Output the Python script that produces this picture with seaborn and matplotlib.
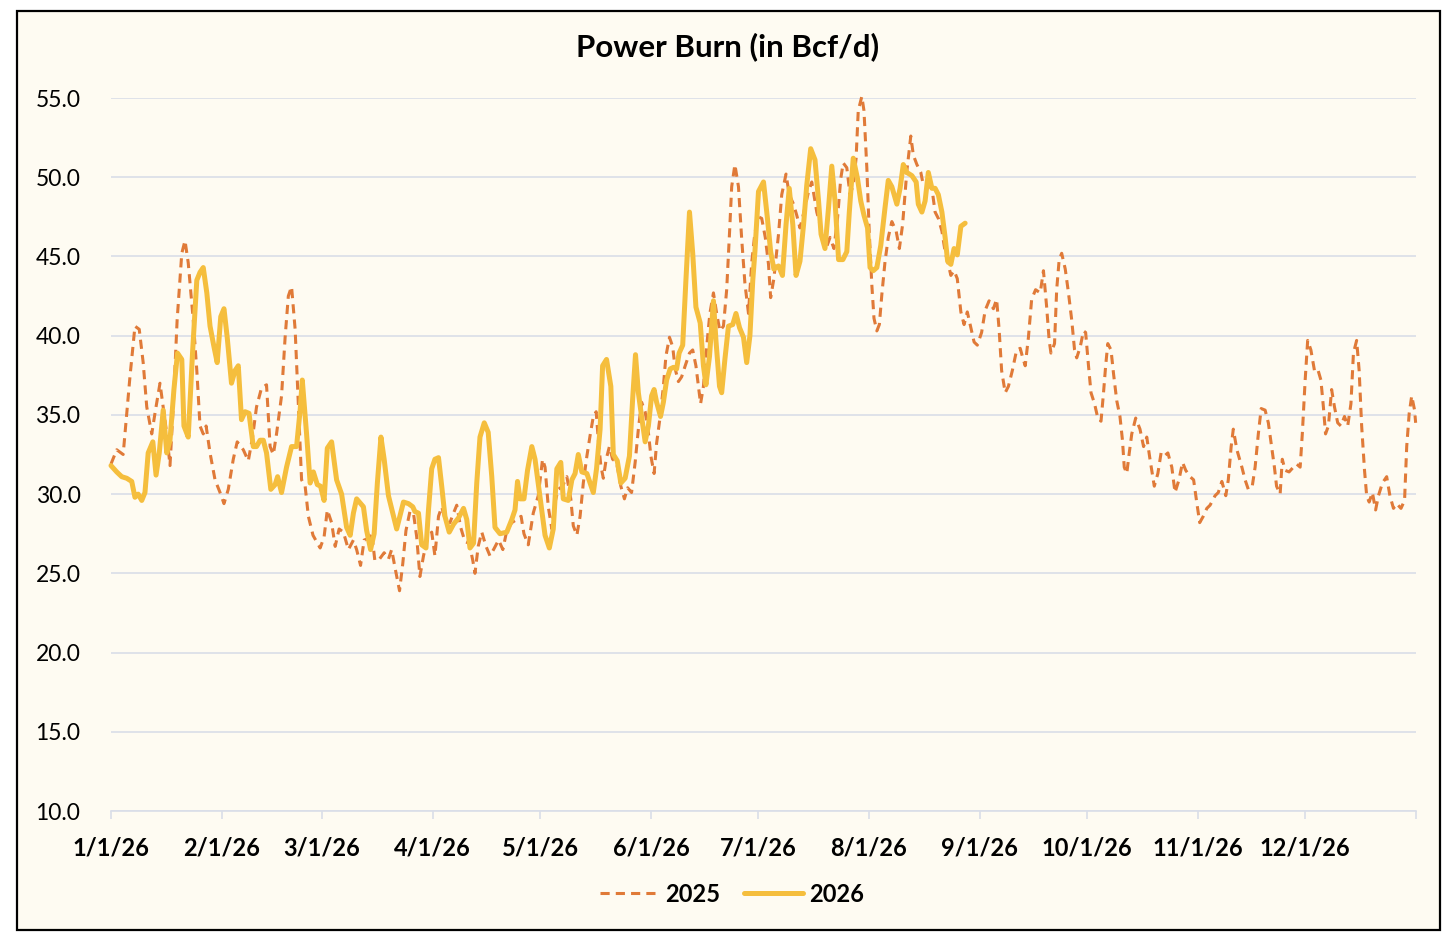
import numpy as np
import pandas as pd
import matplotlib.pyplot as plt
from matplotlib.patches import Rectangle
import seaborn as sns

# day of year (0 = 1/1) and power burn in Bcf/d
days_2025 = [0.0, 1.6, 3.4, 5.3, 6.7, 7.9, 9.0, 10.0, 11.4, 12.3, 13.7, 14.6, 15.6, 16.5, 17.4, 18.5, 19.8, 20.7,
             21.6, 23.0, 24.0, 24.9, 25.8, 26.6, 27.7, 29.1, 30.5, 31.6, 32.8, 34.2, 35.3, 37.0, 38.4, 39.6, 40.7,
             42.1, 43.5, 44.5, 45.4, 46.3, 47.7, 48.7, 49.6, 50.5, 51.5, 52.4, 53.3, 54.3, 55.2, 56.5, 57.5, 58.5,
             59.6, 60.5, 61.7, 62.7, 63.8, 65.0, 66.4, 67.8, 68.7, 69.8, 70.8, 72.0, 72.9, 73.8, 75.1, 76.4, 77.6,
             78.5, 79.4, 80.7, 81.6, 82.5, 83.6, 84.6, 85.5, 86.4, 87.4, 88.5, 89.7, 90.6, 91.6, 92.5, 93.7, 94.8,
             95.8, 96.7, 97.8, 99.0, 100.2, 101.2, 101.8, 102.7, 103.7, 104.9, 106.0, 107.0, 108.4, 109.6, 110.7,
             112.1, 113.5, 114.7, 115.5, 116.7, 118.1, 119.5, 120.7, 121.4, 122.3, 123.3, 124.2, 125.1, 126.3,
             127.5, 128.6, 129.3, 130.3, 131.2, 132.1, 133.1, 134.0, 134.9, 135.7, 136.3, 137.0, 137.7, 138.5,
             139.4, 140.3, 141.4, 142.6, 143.6, 144.5, 145.6, 146.6, 147.5, 148.4, 149.4, 150.3, 151.0, 151.9,
             152.6, 153.6, 154.5, 155.2, 156.2, 157.1, 157.8, 158.7, 159.6, 160.6, 161.8, 162.7, 163.6, 164.3,
             164.9, 165.7, 166.6, 167.5, 168.5, 169.4, 170.3, 171.3, 172.2, 173.0, 173.6, 174.5, 175.5, 176.4,
             177.3, 178.3, 179.2, 180.1, 181.1, 182.0, 183.0, 183.9, 184.5, 185.4, 186.7, 187.6, 188.8, 189.7,
             190.9, 191.8, 192.7, 193.8, 195.1, 196.0, 197.4, 198.8, 200.0, 201.1, 202.2, 203.2, 204.1, 204.8,
             205.8, 206.7, 207.6, 208.4, 209.0, 210.0, 210.6, 211.4, 212.1, 212.8, 213.4, 214.2, 214.9, 215.6,
             216.5, 217.4, 218.4, 219.6, 220.5, 221.4, 222.6, 223.7, 224.4, 225.4, 226.5, 227.2, 228.3, 229.6,
             230.5, 231.4, 232.4, 233.3, 234.2, 234.9, 235.8, 236.7, 237.7, 238.6, 239.5, 240.5, 241.4, 242.3,
             243.5, 244.5, 245.6, 246.8, 247.7, 248.4, 249.1, 250.1, 251.0, 252.1, 253.3, 254.3, 254.9, 255.7,
             256.6, 257.5, 258.6, 259.9, 260.8, 261.7, 262.4, 262.9, 263.9, 264.5, 265.2, 265.9, 266.9, 267.8,
             268.7, 269.5, 270.1, 271.1, 272.0, 272.6, 273.4, 274.1, 275.1, 276.0, 276.9, 277.6, 278.2, 278.8,
             279.7, 280.4, 281.3, 282.2, 282.9, 283.4, 284.1, 284.8, 285.5, 286.6, 287.8, 288.8, 289.7, 290.6,
             291.8, 292.8, 293.7, 294.6, 295.6, 296.7, 297.6, 298.7, 299.7, 300.6, 301.8, 302.8, 303.6, 304.5,
             305.5, 306.5, 307.4, 308.8, 309.7, 310.7, 311.8, 312.5, 313.3, 313.9, 314.9, 316.3, 317.2, 318.1,
             319.2, 320.0, 320.9, 321.7, 322.8, 323.7, 324.6, 325.4, 326.0, 327.0, 327.6, 328.4, 329.5, 330.7,
             331.6, 332.6, 333.2, 334.0, 334.7, 335.6, 336.6, 337.5, 338.4, 339.1, 339.7, 340.5, 341.4, 342.2,
             343.1, 344.0, 345.0, 345.9, 346.8, 347.5, 348.4, 349.1, 349.8, 350.6, 351.2, 351.9, 352.8, 353.7,
             354.5, 355.6, 356.8, 357.7, 358.7, 359.6, 360.8, 361.8, 362.4, 363.1, 363.8, 364.6, 364.9]
burn_2025 = [31.9, 32.8, 32.5, 37.4, 40.6, 40.4, 38.3, 35.5, 33.8, 35.1, 37.0, 35.5, 33.8, 31.8, 35.5, 41.0, 45.2, 46.0,
             44.6, 41.0, 37.8, 34.3, 33.8, 34.3, 32.6, 30.9, 30.1, 29.4, 30.3, 32.2, 33.3, 32.8, 32.1, 33.6, 35.5,
             36.7, 36.9, 33.0, 32.5, 33.8, 36.2, 39.9, 42.5, 43.1, 40.4, 35.7, 30.9, 30.5, 28.6, 27.4, 27.0, 26.6,
             27.3, 29.0, 28.2, 26.7, 27.8, 27.6, 26.5, 27.1, 26.5, 25.5, 27.1, 27.2, 27.6, 25.8, 25.9, 26.3, 25.9,
             26.5, 25.4, 23.9, 25.6, 27.7, 28.9, 28.8, 27.3, 24.8, 26.1, 27.2, 27.6, 26.1, 28.6, 29.2, 28.2, 28.2,
             28.8, 29.3, 27.9, 27.0, 26.9, 25.8, 25.0, 26.7, 27.6, 26.7, 26.1, 26.5, 27.1, 26.5, 27.7,
             28.2, 28.4, 28.6, 27.5, 26.8, 28.8, 29.9, 32.2, 31.7, 29.2, 27.8, 29.5, 30.3, 30.5,
             31.1, 29.7, 28.0, 27.4, 28.6, 30.7, 32.4, 33.7, 34.9, 35.2, 33.4, 31.8, 31.0, 32.2,
             33.0, 32.2, 32.0, 30.5, 29.7, 30.4, 30.1, 32.0, 34.1, 35.8, 35.2, 33.9, 32.4, 31.3,
             33.2, 34.9, 36.8, 38.7, 39.9, 39.3, 37.9, 37.1, 37.4, 38.1, 38.9, 39.1, 38.1, 36.8,
             35.7, 36.8, 39.3, 41.4, 42.7, 41.4, 40.3, 40.6, 42.9, 46.5, 49.4, 50.8, 49.4, 46.1,
             43.3, 41.4, 44.6, 46.5, 47.5, 47.4, 46.2, 44.5, 42.4, 43.6, 46.4, 48.9, 50.2, 48.9,
             48.3, 47.6, 46.8, 47.8, 49.1, 49.7, 47.8, 46.6, 45.5, 46.2, 45.5, 47.4, 49.9, 50.9,
             50.6, 48.9, 49.5, 51.2, 54.2, 55.1, 54.2, 50.6, 46.4, 43.2, 41.1, 40.3, 40.7, 42.6,
             44.7, 46.2, 47.2, 46.6, 45.5, 47.0, 50.4, 52.6, 51.4, 50.8, 50.3, 49.5, 49.5, 49.3,
             47.8, 47.4, 46.6, 45.3, 44.5, 43.8, 44.1, 43.6, 41.5, 40.7, 41.5, 40.5, 39.6, 39.4,
             40.2, 41.6, 42.2, 41.7, 42.3, 40.4, 37.8, 36.4, 36.8, 37.8, 39.1, 39.2, 38.7, 38.1,
             39.9, 42.3, 42.9, 42.7, 44.1, 41.8, 39.7, 38.9, 39.5, 42.9, 44.8, 45.2, 44.2, 42.7,
             41.0, 39.1, 38.6, 39.3, 40.3, 40.2, 38.1, 36.4, 35.7, 34.8, 34.6, 36.4, 38.1, 39.5,
             39.1, 37.6, 35.9, 34.9, 33.4, 31.7, 31.3, 32.6, 33.8, 34.8, 34.1, 33.0, 33.6, 32.2,
             30.5, 31.3, 32.6, 32.4, 32.6, 31.7, 30.1, 30.9, 32.0, 31.5, 31.1, 30.9, 29.6, 28.2,
             28.6, 29.1, 29.3, 29.9, 30.1, 30.8, 29.9, 30.9, 33.0, 34.1, 32.8, 31.7, 30.9, 30.3,
             30.5, 31.7, 33.8, 35.4, 35.3, 34.5, 33.0, 31.7, 30.5, 30.0, 32.2, 31.5, 31.4, 31.7,
             31.9, 31.7, 33.8, 37.2, 39.7, 39.1, 37.8, 37.9, 37.2, 35.5, 33.8, 34.3, 36.6, 35.5,
             34.5, 34.3, 34.9, 34.3, 35.7, 38.9, 39.7, 37.8, 34.3, 31.5, 29.9, 29.5, 30.1, 29.0,
             29.9, 30.7, 31.1, 29.9, 29.1, 29.4, 29.1, 29.6, 33.0, 35.1, 36.2, 35.3, 34.5]

days_2026 = [0.0, 1.6, 3.0, 4.4, 5.8, 6.7, 7.6, 8.6, 9.5, 10.4, 11.7, 12.6, 13.5, 14.6, 15.6, 16.5, 17.6, 18.6, 19.8,
             20.4, 21.6, 22.8, 24.0, 24.9, 25.8, 26.8, 27.7, 28.8, 29.7, 30.7, 31.6, 32.5, 33.7, 34.7, 35.6, 36.5,
             37.5, 38.6, 39.8, 40.7, 41.7, 42.6, 43.5, 44.7, 45.9, 46.6, 47.7, 49.1, 50.5, 51.9, 52.9, 53.5, 54.7,
             55.7, 56.6, 57.7, 58.6, 59.6, 60.5, 61.7, 63.1, 64.5, 65.9, 66.9, 67.8, 68.7, 70.6, 71.5, 72.6, 73.6,
             74.5, 75.5, 76.4, 77.6, 78.8, 79.9, 80.8, 81.8, 83.2, 84.4, 85.0, 86.0, 86.9, 88.1, 88.8, 89.7, 90.6,
             91.6, 92.5, 93.4, 94.6, 95.8, 97.2, 98.6, 99.5, 100.4, 101.4, 102.3, 103.2, 104.4, 105.5, 106.5,
             107.4, 108.8, 110.7, 112.1, 113.0, 113.7, 114.4, 115.5, 116.5, 117.7, 118.6, 120.0, 121.4, 122.6,
             123.7, 124.7, 125.8, 126.5, 127.9, 128.9, 129.8, 130.7, 131.7, 133.1, 134.0, 134.9, 135.8, 136.8,
             137.5, 138.6, 139.8, 140.5, 141.6, 142.6, 143.8, 145.0, 145.9, 146.7, 147.5, 148.4, 149.4, 150.3,
             151.2, 151.9, 152.6, 153.7, 154.5, 155.4, 156.4, 157.3, 158.2, 158.9, 159.9, 160.8, 161.8, 162.7,
             163.6, 164.8, 165.7, 166.4, 167.4, 168.5, 169.2, 170.2, 170.8, 171.7, 172.7, 173.9, 174.8, 175.8,
             176.9, 177.8, 178.7, 179.5, 180.1, 181.1, 182.5, 183.6, 184.5, 185.4, 186.7, 187.8, 188.8, 189.7,
             190.7, 191.6, 192.7, 193.7, 194.6, 195.7, 196.9, 197.9, 198.6, 199.7, 200.7, 201.6, 202.5, 203.5,
             204.7, 205.8, 206.5, 207.6, 208.8, 209.7, 210.6, 211.6, 212.3, 213.2, 214.2, 215.3, 216.5, 217.4,
             218.4, 219.8, 220.7, 221.6, 222.6, 224.0, 225.2, 225.8, 226.8, 227.7, 228.6, 229.6, 230.5, 231.4,
             232.4, 233.3, 234.0, 234.9, 235.8, 236.7, 237.7, 238.9]
burn_2026 = [31.8, 31.4, 31.1, 31.0, 30.8, 29.8, 30.0, 29.6, 30.1, 32.6, 33.3, 31.2, 32.6, 35.3, 32.6, 33.4, 36.6, 38.9, 38.5,
             34.3, 33.6, 38.9, 43.5, 44.0, 44.3, 42.7, 40.6, 39.3, 38.3, 41.2, 41.7, 39.9, 37.0, 37.8, 38.1, 34.7,
             35.2, 35.1, 33.0, 33.0, 33.4, 33.4, 32.6, 30.3, 30.6, 31.1, 30.1, 31.7, 33.0, 33.0, 35.3, 37.2, 33.8,
             30.7, 31.4, 30.6, 30.5, 29.6, 32.9, 33.3, 30.9, 30.0, 27.9, 27.4, 28.8, 29.7, 29.2, 27.7, 26.5, 27.5,
             30.7, 33.6, 32.2, 29.9, 28.8, 27.8, 28.6, 29.5, 29.4, 29.2, 28.9, 28.8, 26.8, 26.6, 29.0, 31.6, 32.2,
             32.3, 30.5, 28.6, 27.6, 28.1, 28.5, 29.1, 28.4, 26.6, 26.9, 30.7, 33.6, 34.5, 33.9, 31.1,
             27.9, 27.5, 27.6, 28.4, 29.0, 30.8, 29.7, 29.7, 31.5, 33.0, 32.2, 29.8, 27.4, 26.6,
             27.8, 31.6, 32.0, 29.7, 29.6, 30.9, 31.3, 32.5, 31.4, 31.3, 30.7, 30.1, 31.6, 34.1,
             38.1, 38.5, 36.8, 32.5, 32.1, 30.7, 31.0, 32.4, 36.0, 38.8, 36.4, 34.9, 33.3, 34.3,
             36.2, 36.6, 35.8, 34.9, 35.8, 37.2, 37.9, 38.0, 37.9, 38.9, 39.4, 43.5, 47.8, 45.2,
             41.8, 40.8, 38.1, 36.9, 38.7, 42.2, 39.7, 36.8, 36.4, 38.5, 40.6, 40.7, 41.4, 40.5,
             39.9, 38.3, 40.0, 43.5, 45.3, 49.1, 49.7, 47.4, 45.3, 44.2, 44.4, 43.8, 47.0, 49.3,
             47.0, 43.8, 44.7, 47.0, 49.5, 51.8, 51.1, 48.5, 46.4, 45.5, 48.1, 50.7, 48.5, 44.8,
             44.8, 45.3, 47.8, 51.2, 49.9, 48.5, 47.6, 46.8, 44.3, 44.1, 44.3, 45.7, 48.1, 49.8,
             49.4, 48.3, 49.3, 50.8, 50.3, 50.1, 49.7, 48.3, 47.8, 48.5, 50.3, 49.3, 49.3, 48.9,
             47.8, 46.2, 44.7, 44.5, 45.5, 45.1, 46.9, 47.1]

tick_days = [0, 31, 59, 90, 120, 151, 181, 212, 243, 273, 304, 334, 365]
tick_labels = ['1/1/26', '2/1/26', '3/1/26', '4/1/26', '5/1/26', '6/1/26', '7/1/26',
               '8/1/26', '9/1/26', '10/1/26', '11/1/26', '12/1/26', '']
y_ticks = [10, 15, 20, 25, 30, 35, 40, 45, 50, 55]

df_25 = pd.DataFrame({'day': days_2025, 'burn': burn_2025})
df_26 = pd.DataFrame({'day': days_2026, 'burn': burn_2026})

sns.set_theme(style='white')
plt.rcParams['font.family'] = ['Lato', 'DejaVu Sans']

cream = '#FEFBF2'
grid_col = '#D9DEE8'
orange = '#E07A38'
gold = '#F5BE3D'

W, H = 1456, 946
fig = plt.figure(figsize=(W / 100, H / 100), dpi=100, facecolor='white')

# cream panel with a thin black frame, kept behind the axes
fig.patches.append(Rectangle((17 / W, 1 - 930 / H), (1440 - 17) / W, (930 - 11) / H,
                             transform=fig.transFigure, facecolor=cream, edgecolor='black',
                             lw=1.6, zorder=-1))

ax = fig.add_axes([111 / W, 1 - 811 / H, (1416 - 111) / W, (811 - 98) / H])
ax.set_facecolor('none')

sns.lineplot(data=df_25, x='day', y='burn', ax=ax, color=orange, lw=2.2,
             linestyle=(0, (3, 2)), estimator=None, sort=False, label='2025', clip_on=False)
sns.lineplot(data=df_26, x='day', y='burn', ax=ax, color=gold, lw=3.6,
             estimator=None, sort=False, label='2026', clip_on=False, solid_joinstyle='round')

ax.set_xlim(0, 365)
ax.set_ylim(10, 55)
ax.set_yticks(y_ticks)
ax.set_yticklabels([f'{v:.1f}' for v in y_ticks])
ax.set_xticks(tick_days)
ax.set_xticklabels(tick_labels, fontweight='bold')
ax.set_xlabel('')
ax.set_ylabel('')

ax.yaxis.grid(True, color=grid_col, lw=1.2)
ax.xaxis.grid(False)
for side in ['top', 'right', 'left']:
    ax.spines[side].set_visible(False)
ax.spines['bottom'].set_color(grid_col)
ax.spines['bottom'].set_linewidth(1.2)
ax.tick_params(axis='x', direction='out', length=6, width=1.2, color=grid_col,
               pad=12, labelsize=17, labelcolor='black', bottom=True)
ax.tick_params(axis='y', length=0, pad=22, labelsize=16.5, labelcolor='black')

fig.text(0.5, 1 - 47 / H, 'Power Burn (in Bcf/d)', ha='center', va='center',
         fontsize=22.5, fontweight='bold', color='black')

leg = ax.legend(loc='center', bbox_to_anchor=(732 / W, 1 - 894 / H), bbox_transform=fig.transFigure,
                ncol=2, frameon=False, handlelength=2.5, handletextpad=0.25, columnspacing=1.0,
                fontsize=17)
for txt in leg.get_texts():
    txt.set_fontweight('bold')
    txt.set_color('black')

fig.savefig('out.png', dpi=100, facecolor='white')
